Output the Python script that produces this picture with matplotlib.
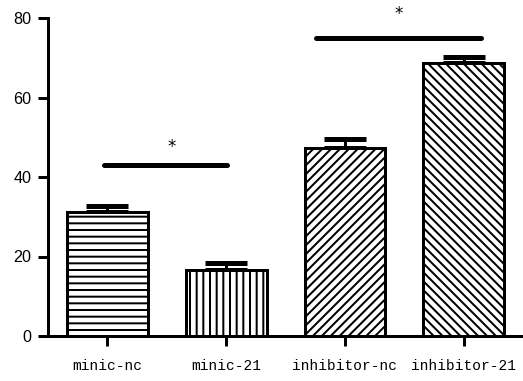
import matplotlib
matplotlib.use("Agg")
import matplotlib.pyplot as plt

groups = ["minic-nc", "minic-21", "inhibitor-nc", "inhibitor-21"]
values = [31.2, 16.6, 47.3, 68.7]
errors = [1.5, 1.8, 2.2, 1.5]
hatches = ["--", "||", "///", "\\\\\\"]
yticks = [0, 20, 40, 60, 80]

# significance bars: (x start, x end, line height, star x, star height)
sig_lines = [(-0.025, 1.01, 43.0, 0.54, 47.6), (1.76, 3.15, 75.0, 2.45, 80.9)]

DPI = 80
plt.rcParams["hatch.linewidth"] = 1.8

fig = plt.figure(figsize=(523 / DPI, 381 / DPI), dpi=DPI)
ax = fig.add_axes([48 / 523, 1 - 336 / 381, 1 - 48 / 523, (336 - 18) / 381])

x = list(range(len(groups)))
ax.bar(x, values, width=0.68, color="white", edgecolor="black",
       linewidth=2.7, hatch=hatches, zorder=2)
ax.errorbar(x, values, yerr=[[0] * len(errors), errors], fmt="none",
            ecolor="black", elinewidth=2.7, capsize=19, capthick=4.5, zorder=1)

for x0, x1, h, sx, sy in sig_lines:
    ax.plot([x0, x1], [h, h], color="black", lw=4.5,
            solid_capstyle="round", clip_on=False)
    ax.text(sx, sy, "*", ha="center", va="center", fontsize=15,
            family="DejaVu Sans", clip_on=False)

ax.set_xlim(-0.5, 3.5)
ax.set_ylim(0, 80)
ax.set_yticks(yticks)
ax.set_xticks(x)
ax.set_xticklabels(groups, family="Liberation Mono", fontsize=13)
for lab in ax.get_yticklabels():
    lab.set_family("Liberation Sans")
    lab.set_fontsize(14.5)

for s in ["top", "right"]:
    ax.spines[s].set_visible(False)
for s in ["left", "bottom"]:
    ax.spines[s].set_linewidth(2.7)
ax.tick_params(axis="y", length=9, width=2.7, pad=6)
ax.tick_params(axis="x", length=9, width=2.7, pad=12)

fig.savefig("out.png", dpi=DPI)
